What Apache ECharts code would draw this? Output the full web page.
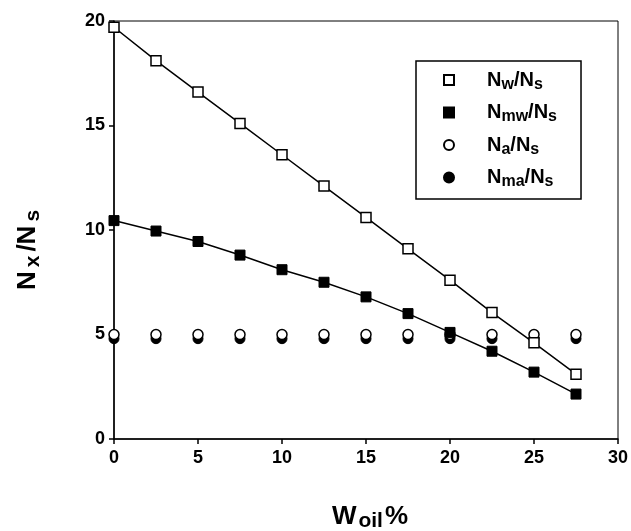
<!DOCTYPE html>
<html>
<head>
<meta charset="utf-8">
<script src="https://cdn.jsdelivr.net/npm/echarts@6/dist/echarts.min.js"></script>
<style>
html,body{margin:0;padding:0;background:#fff;}
#chart{width:631px;height:531px;}
</style>
</head>
<body>
<div id="chart"></div>
<script>
// ---- data ----
var xValues = [0, 2.5, 5, 7.5, 10, 12.5, 15, 17.5, 20, 22.5, 25, 27.5];
var nwNs  = [19.7, 18.1, 16.6, 15.1, 13.6, 12.1, 10.6, 9.1, 7.6, 6.05, 4.6, 3.1];
var nmwNs = [10.45, 9.95, 9.45, 8.8, 8.1, 7.5, 6.8, 6.0, 5.1, 4.2, 3.2, 2.15];
var naNs  = [5.0, 5.0, 5.0, 5.0, 5.0, 5.0, 5.0, 5.0, 5.0, 5.0, 5.0, 5.0];
var nmaNs = [4.8, 4.8, 4.8, 4.8, 4.8, 4.8, 4.8, 4.8, 4.8, 4.8, 4.8, 4.8];
var seriesNames = ['Nw/Ns', 'Nmw/Ns', 'Na/Ns', 'Nma/Ns'];
var legendRich = {
  'Nw/Ns':  '{f|N}{b|w}{a|/N}{b|s}',
  'Nmw/Ns': '{f|N}{b|mw}{a|/N}{b|s}',
  'Na/Ns':  '{f|N}{b|a}{a|/N}{b|s}',
  'Nma/Ns': '{f|N}{b|ma}{a|/N}{b|s}'
};
var xTitle = '{a|W}{b|oil}{a|%}';
var yTitle = '{a|N}{b|x}{a|/N}{b|s}';

function pairs(xs, ys) { return xs.map(function (x, i) { return [x, ys[i]]; }); }

var FONT = '"Liberation Sans", Arial, Helvetica, sans-serif';
var chart = echarts.init(document.getElementById('chart'), null, {renderer: 'canvas'});

var openStyle = {color: '#ffffff', borderColor: '#000000', borderWidth: 1.5, opacity: 1};
var fillStyle = {color: '#000000', borderColor: '#000000', borderWidth: 1, opacity: 1};

chart.setOption({
  animation: false,
  backgroundColor: '#ffffff',
  grid: {left: 114, top: 21, right: 13, bottom: 92, show: true, borderColor: '#000', borderWidth: 1,
    backgroundColor: 'transparent', containLabel: false, outerBoundsMode: 'none'},
  xAxis: {
    type: 'value', min: 0, max: 30, interval: 5,
    name: xTitle, nameLocation: 'middle', nameGap: 62,
    nameTextStyle: {
      padding: [0, 0, 0, 8],
      rich: {
        a: {fontFamily: FONT, fontWeight: 'bold', fontSize: 26, color: '#000'},
        b: {fontFamily: FONT, fontWeight: 'bold', fontSize: 21, color: '#000', padding: [10, 2, 0, 2]}
      }
    },
    axisLine: {lineStyle: {color: '#000', width: 1.5}},
    axisTick: {inside: false, length: 5, lineStyle: {color: '#000', width: 1.5}},
    axisLabel: {color: '#000', fontFamily: FONT, fontWeight: 'bold', fontSize: 18, margin: 10},
    splitLine: {show: false}
  },
  yAxis: {
    type: 'value', min: 0, max: 20, interval: 5,
    name: yTitle, nameLocation: 'middle', nameGap: 70,
    nameTextStyle: {
      padding: [0, 38, 0, 0],
      rich: {
        a: {fontFamily: FONT, fontWeight: 'bold', fontSize: 26, color: '#000', padding: [0, 1, 0, 1]},
        b: {fontFamily: FONT, fontWeight: 'bold', fontSize: 21, color: '#000', padding: [12, 3, 0, 3]}
      }
    },
    axisLine: {lineStyle: {color: '#000', width: 1.5}},
    axisTick: {inside: false, length: 5, lineStyle: {color: '#000', width: 1.5}},
    axisLabel: {color: '#000', fontFamily: FONT, fontWeight: 'bold', fontSize: 18, margin: 9},
    splitLine: {show: false}
  },
  legend: {
    orient: 'vertical', left: 416, top: 61,
    width: 140,
    padding: [9, 24, 9, 27],
    itemGap: 10, itemWidth: 10, itemHeight: 10,
    backgroundColor: '#fff', borderColor: '#000', borderWidth: 1.5,
    data: [
      {name: seriesNames[0], icon: 'rect'},
      {name: seriesNames[1], icon: 'rect'},
      {name: seriesNames[2], icon: 'circle'},
      {name: seriesNames[3], icon: 'circle'}
    ],
    formatter: function (name) { return legendRich[name]; },
    textStyle: {
      rich: {
        f: {fontFamily: FONT, fontWeight: 'bold', fontSize: 20, color: '#000', padding: [0, 0, 0, 28], height: 22},
        a: {fontFamily: FONT, fontWeight: 'bold', fontSize: 20, color: '#000', height: 22},
        b: {fontFamily: FONT, fontWeight: 'bold', fontSize: 16, color: '#000', padding: [9, 0, 0, 0]}
      }
    }
  },
  series: [
    {name: seriesNames[3], type: 'scatter', data: pairs(xValues, nmaNs), symbol: 'circle', symbolSize: 10, itemStyle: fillStyle, z: 2},
    {name: seriesNames[2], type: 'scatter', data: pairs(xValues, naNs), symbol: 'circle', symbolSize: 10, itemStyle: openStyle, z: 3},
    {name: seriesNames[0], type: 'line', data: pairs(xValues, nwNs), symbol: 'rect', symbolSize: 10, showSymbol: true,
      lineStyle: {color: '#000', width: 1.5}, itemStyle: openStyle, z: 4},
    {name: seriesNames[1], type: 'line', data: pairs(xValues, nmwNs), symbol: 'rect', symbolSize: 10, showSymbol: true,
      lineStyle: {color: '#000', width: 1.5}, itemStyle: fillStyle, z: 5}
  ]
});
</script>
</body>
</html>
